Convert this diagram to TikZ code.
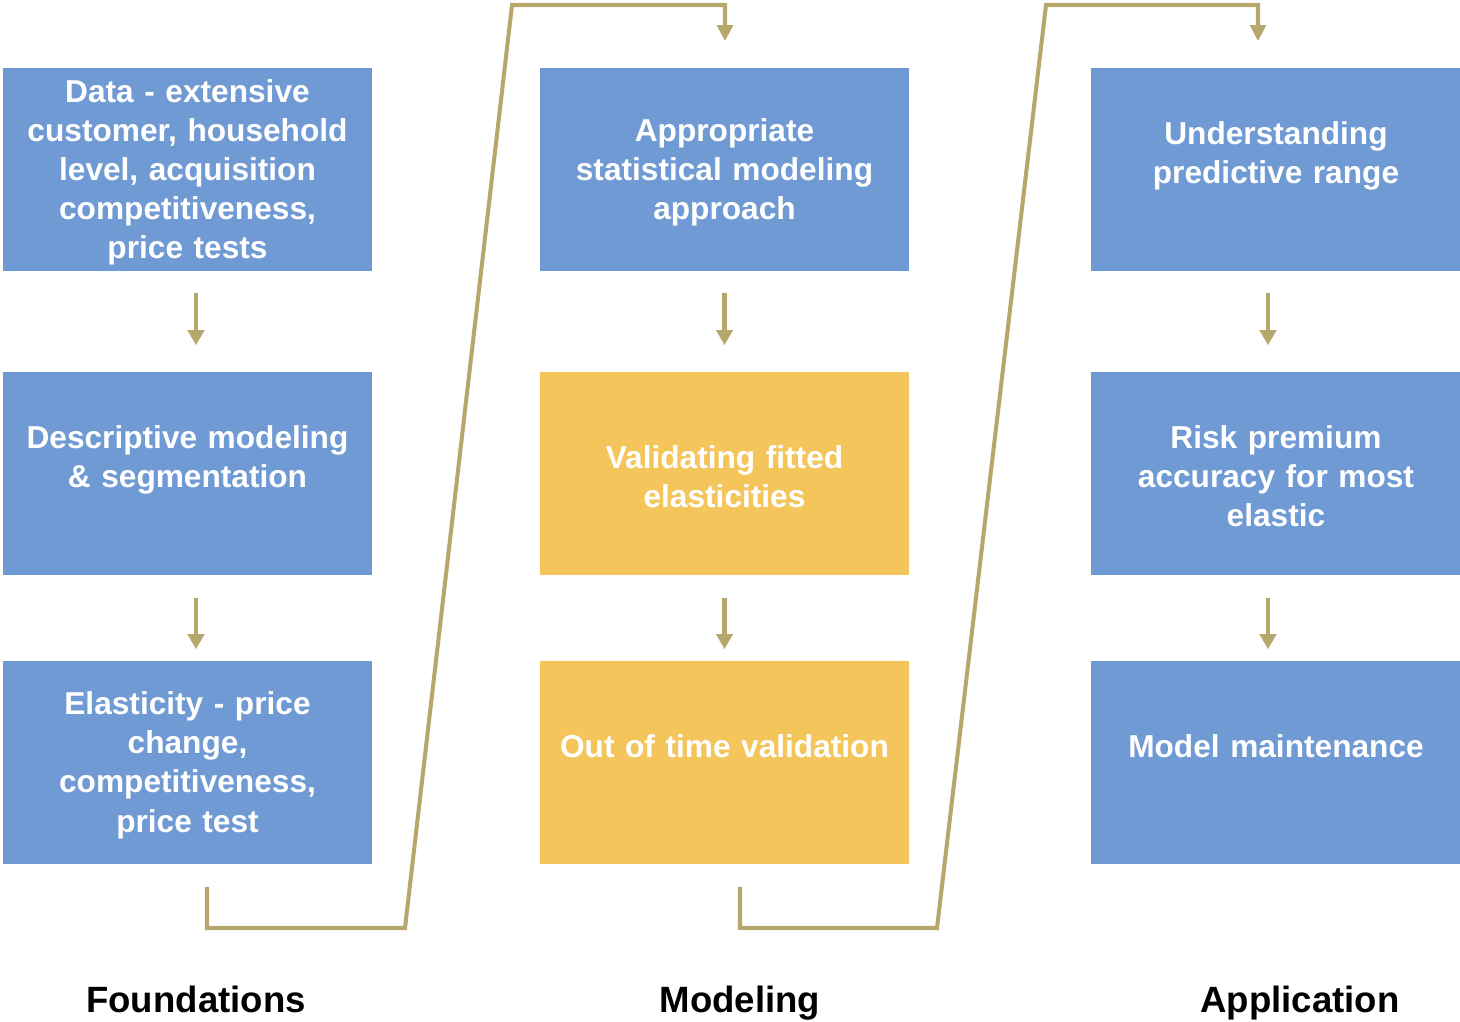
\documentclass[tikz,border=0pt]{standalone}
\usepackage{fontspec}
\setmainfont{Liberation Sans}
\usetikzlibrary{positioning, calc, arrows.meta}
\definecolor{boxblue}{RGB}{112,154,211}
\definecolor{boxgold}{RGB}{244,197,91}
\definecolor{flowolive}{RGB}{182,168,108}
\tikzset{
    box/.style={rectangle, fill=boxblue, minimum width=3.69cm, minimum height=2.03cm, text width=3.5cm, align=center, inner sep=0pt, text=white, font=\fontsize{9}{11.1}\selectfont\bfseries, execute at begin node={\rule{0pt}{8.1pt}}},
    hot box/.style={box, fill=boxgold},
    step arrow/.style={draw=flowolive, line width=1.4pt, -{Triangle[width=4.6pt, length=4.3pt]}, shorten <=2.1mm, shorten >=2.6mm},
    low arrow/.style={step arrow, shorten <=2.2mm, shorten >=1.1mm},
    link/.style={draw=flowolive, line width=1.15pt, -{Triangle[width=4.4pt, length=4.6pt]}},
    phase label/.style={anchor=base, font=\fontsize{10.4}{12}\selectfont\bfseries},
}

\begin{document}
\begin{tikzpicture}[x=0.01cm, y=-0.01cm]
            \useasboundingbox (0,0) rectangle (1460,1022);
            % foundations column
            \node[box] (data) at (187.5,169.5) {Data - extensive\\ customer, household\\ level, acquisition\\ competitiveness,\\ price tests};
            \node[box] (descr) at (187.5,473.5) {Descriptive modeling\\ \& segmentation\\ ~};
            \node[box] (elast) at (187.5,762.5) {Elasticity - price\\ change,\\ competitiveness,\\ price test};
            % modeling column
            \node[box] (approach) at (724.5,169.5) {Appropriate\\ statistical modeling\\ approach};
            \node[hot box] (fitted) at (724.5,473.5) {Validating fitted\\ elasticities};
            \node[hot box] (oot) at (724.5,762.5) {Out of time validation\\ ~};
            % application column
            \node[box] (range) at (1276,169.5) {Understanding\\ predictive range\\ ~};
            \node[box] (risk) at (1276,473.5) {Risk premium\\ accuracy for most\\ elastic};
            \node[box] (maint) at (1276,762.5) {Model maintenance\\ ~};

            \draw[step arrow] ([xshift=0.85mm]data.south) -- ([xshift=0.85mm]descr.north);
            \draw[low arrow] ([xshift=0.85mm]descr.south) -- ([xshift=0.85mm]elast.north);
            \draw[step arrow] (approach) -- (fitted);
            \draw[low arrow] (fitted) -- (oot);
            \draw[step arrow] ([xshift=-0.8mm]range.south) -- ([xshift=-0.8mm]risk.north);
            \draw[low arrow] ([xshift=-0.8mm]risk.south) -- ([xshift=-0.8mm]maint.north);

            % links between columns
            \coordinate (low1) at (405,928);
            \coordinate (top1) at (512,5);
            \coordinate (low2) at (937,928);
            \coordinate (top2) at (1046,5);
            \draw[link] ($(elast.south)+(19.5,22)$) |- (low1) -- (top1) -| ($(approach.north)+(0.5,-26)$);
            \draw[link] ($(oot.south)+(15.5,22)$) |- (low2) -- (top2) -| ($(range.north)+(-18,-26)$);

            \node[phase label] (found) at (196,1012) {Foundations};
            \node[phase label] (model) at (740,1012) {Modeling};
            \node[phase label] (apply) at (1300,1012) {Application};
        \end{tikzpicture}
\end{document}
